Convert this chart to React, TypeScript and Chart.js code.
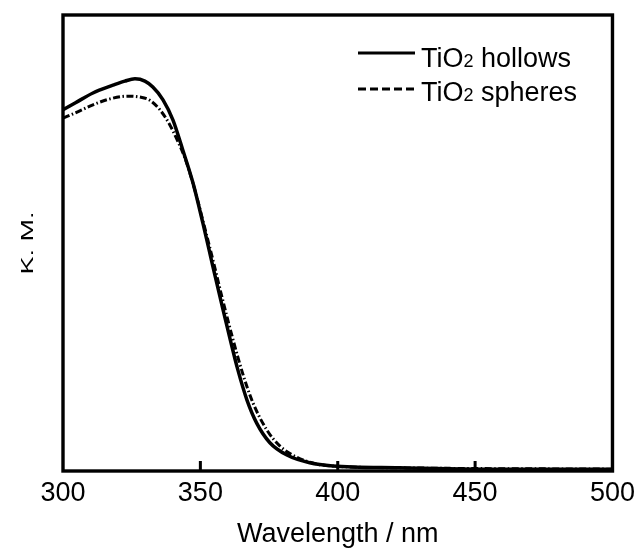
import React, { useEffect, useRef } from 'react';
import { Chart, registerables } from 'chart.js';

Chart.register(...registerables);

// Data
const hollowsWavelength = [300, 304.4, 310.9, 318.2, 322.5, 326.2, 329.8, 332.7, 336.4, 340.0, 343.6, 347.3, 350.9, 354.5, 358.2, 361.0, 363.5, 367.0, 370.5, 375.3, 381.5, 389.8, 398.2, 422.5, 458.9, 500];
const hollowsKM = [0.792, 0.807, 0.829, 0.846, 0.855, 0.86, 0.855, 0.842, 0.814, 0.77, 0.704, 0.632, 0.544, 0.45, 0.355, 0.285, 0.225, 0.155, 0.105, 0.062, 0.035, 0.018, 0.011, 0.007, 0.004, 0.004];

const spheresWavelength = [300, 304.4, 310.9, 317.1, 323.3, 328.0, 331.6, 335.3, 338.9, 341.1, 344.4, 348.0, 351.6, 355.3, 357.8, 361.8, 365.5, 369.1, 374.2, 378.9, 385.1, 392.7, 400.7, 422.5, 500];
const spheresKM = [0.774, 0.785, 0.803, 0.816, 0.822, 0.82, 0.813, 0.792, 0.759, 0.732, 0.686, 0.616, 0.533, 0.445, 0.383, 0.29, 0.212, 0.15, 0.09, 0.055, 0.03, 0.015, 0.01, 0.007, 0.004];

const xTickValues = [300, 350, 400, 450, 500];
const innerTickValues = [350, 400, 450];
const seriesLabels = ['TiO₂ hollows', 'TiO₂ spheres'];
const xTitle = 'Wavelength / nm';
const yTitle = 'K. M.';

const FONT = "'Liberation Sans', Arial, Helvetica, sans-serif";

const framePlugin = {
  id: 'frame',
  afterDraw(chart: any) {
    const { ctx, chartArea, scales } = chart;
    ctx.save();
    ctx.strokeStyle = '#000';
    ctx.lineWidth = 3.4;
    ctx.strokeRect(chartArea.left, chartArea.top, chartArea.right - chartArea.left, chartArea.bottom - chartArea.top);
    // inner tick marks
    ctx.lineWidth = 3;
    ctx.beginPath();
    innerTickValues.forEach((v) => {
      const px = scales.x.getPixelForValue(v);
      ctx.moveTo(px, chartArea.bottom);
      ctx.lineTo(px, chartArea.bottom - 10);
    });
    ctx.stroke();

    // y title (slightly condensed as in the reference)
    ctx.fillStyle = '#000';
    ctx.font = `27px ${FONT}`;
    ctx.textAlign = 'center';
    ctx.textBaseline = 'alphabetic';
    ctx.translate(33, (chartArea.top + chartArea.bottom) / 2);
    ctx.rotate(-Math.PI / 2);
    ctx.scale(1, 0.64);
    ctx.fillText(yTitle, 0, 0);
    ctx.restore();

    // legend
    ctx.save();
    const rows = [
      { y: 53, base: 67, dash: [] as number[] },
      { y: 89, base: 101, dash: [8, 4] },
    ];
    rows.forEach((r, i) => {
      ctx.strokeStyle = '#000';
      ctx.lineWidth = 2.8;
      ctx.setLineDash(r.dash);
      ctx.beginPath();
      ctx.moveTo(358, r.y);
      ctx.lineTo(415, r.y);
      ctx.stroke();
      ctx.setLineDash([]);
      const parts = seriesLabels[i].split('₂');
      ctx.fillStyle = '#000';
      ctx.textAlign = 'left';
      ctx.textBaseline = 'alphabetic';
      let x = 421;
      ctx.font = `27px ${FONT}`;
      ctx.fillText(parts[0], x, r.base);
      x += ctx.measureText(parts[0]).width;
      ctx.font = `18px ${FONT}`;
      ctx.fillText('2', x, r.base);
      x += ctx.measureText('2').width;
      ctx.font = `27px ${FONT}`;
      ctx.fillText(parts[1], x, r.base);
    });
    ctx.restore();
  },
};

export default function App() {
  const ref = useRef<HTMLCanvasElement | null>(null);
  useEffect(() => {
    if (!ref.current) return;
    const chart = new Chart(ref.current, {
      type: 'line',
      data: {
        datasets: [
          {
            label: seriesLabels[0],
            data: hollowsWavelength.map((x, i) => ({ x, y: hollowsKM[i] })),
            borderColor: '#000',
            borderWidth: 3.5,
            pointRadius: 0,
            cubicInterpolationMode: 'monotone',
            fill: false,
          },
          {
            label: seriesLabels[1],
            data: spheresWavelength.map((x, i) => ({ x, y: spheresKM[i] })),
            borderColor: '#000',
            borderWidth: 3,
            borderDash: [7, 2.5, 1.5, 2.5],
            pointRadius: 0,
            cubicInterpolationMode: 'monotone',
            fill: false,
          },
        ],
      },
      options: {
        responsive: false,
        animation: false,
        layout: { padding: { left: 63, top: 15, right: 28, bottom: 0 } },
        plugins: { legend: { display: false }, tooltip: { enabled: false } },
        scales: {
          x: {
            type: 'linear',
            min: 300,
            max: 500,
            afterFit: (s: any) => { s.height = 82; },
            afterBuildTicks: (s: any) => { s.ticks = xTickValues.map((v) => ({ value: v })); },
            grid: { display: false, drawTicks: false },
            border: { display: false },
            ticks: { color: '#000', font: { family: FONT, size: 27 }, padding: 6, maxRotation: 0 },
            title: { display: true, text: xTitle, color: '#000', font: { family: FONT, size: 27 }, padding: { top: 0, bottom: 2 } },
          },
          y: {
            display: false,
            min: 0,
            max: 1,
          },
        },
      },
      plugins: [framePlugin],
    });
    return () => chart.destroy();
  }, []);
  return (
    <div style={{ position: 'absolute', left: 0, top: 0, width: 641, height: 553, background: '#fff' }}>
      <canvas ref={ref} width={641} height={553} style={{ display: 'block' }} />
    </div>
  );
}
